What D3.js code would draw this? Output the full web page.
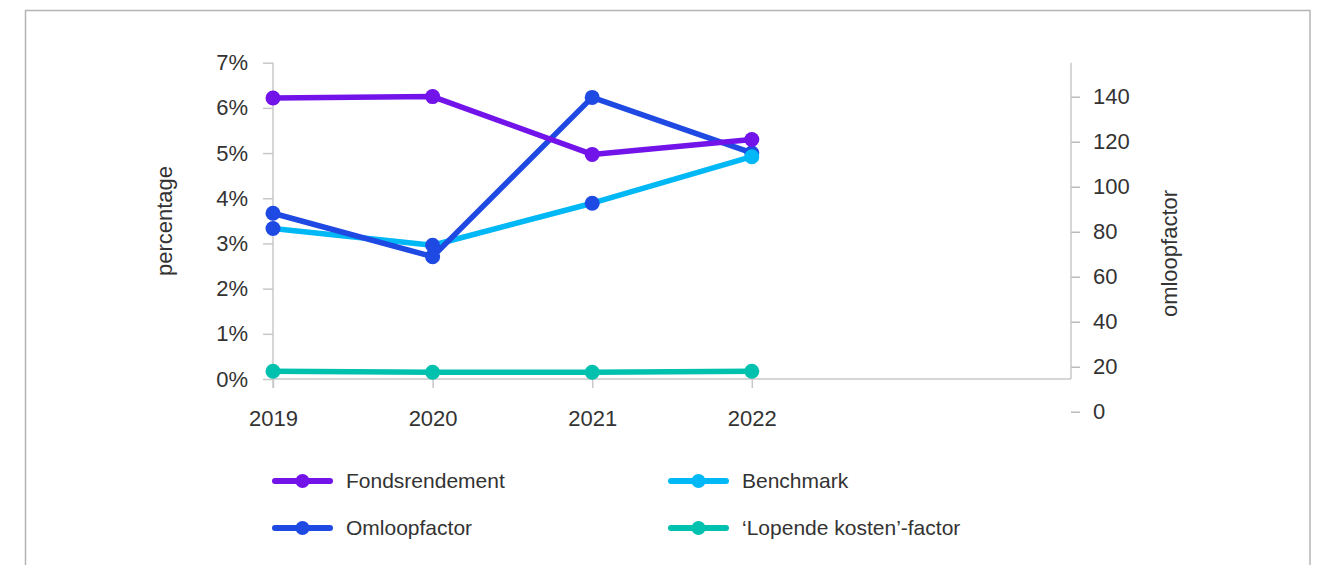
<!DOCTYPE html>
<html>
<head>
<meta charset="utf-8">
<script src="https://cdn.jsdelivr.net/npm/d3@7"></script>
<style>
  html, body { margin: 0; padding: 0; background: #fff; }
  svg { display: block; }
  text { font-family: "Liberation Sans", Arial, sans-serif; fill: #333; }
</style>
</head>
<body>
<svg id="chart" width="1326" height="565"></svg>
<script>
// Years on the horizontal axis
const years = [2019, 2020, 2021, 2022];

// Percentages (left axis)
const fondsrendement = [6.22, 6.25, 4.97, 5.30];
const benchmark = [3.33, 2.96, 3.89, 4.92];
const lopendeKosten = [0.17, 0.15, 0.15, 0.17];

// Turnover factor (right axis)
const omloopfactor = [88.2, 68.9, 139.7, 115.0];

// Tick labels
const leftTicks = [0, 1, 2, 3, 4, 5, 6, 7];
const rightTicks = [0, 20, 40, 60, 80, 100, 120, 140];

// Legend entries
const legendLabels = ["Fondsrendement", "Benchmark", "Omloopfactor", "\u2018Lopende kosten\u2019-factor"];

const colors = {
  fonds: "#7213EA",
  bench: "#00B8F5",
  omloop: "#1E49E2",
  kosten: "#00C0AE"
};
// Benchmark markers: first three points carry the cobalt fill
const benchMarkerFill = [colors.omloop, colors.omloop, colors.omloop, colors.bench];

const svg = d3.select("#chart");

// Outer frame
svg.append("rect")
  .attr("x", 25.5).attr("y", 10.5)
  .attr("width", 1284.5).attr("height", 600)
  .attr("fill", "none").attr("stroke", "#b4b4b4").attr("stroke-width", 1.5);

const x = d3.scaleLinear().domain([2019, 2024]).range([273, 1071]);
const yL = d3.scaleLinear().domain([0, 7]).range([379, 62.7]);
const yR = d3.scaleLinear().domain([0, 140]).range([411.7, 96.7]);

const axisColor = "#c8c8c8";
const fontSize = 22;

// Left axis
const gL = svg.append("g").attr("transform", `translate(${x(2019)},0)`)
  .call(d3.axisLeft(yL).tickValues(leftTicks).tickSize(10).tickPadding(15)
    .tickFormat(d => d + "%"));
gL.select(".domain").remove();
gL.selectAll(".tick line").attr("stroke", axisColor).attr("stroke-width", 1.5);
gL.selectAll(".tick text").style("font-size", fontSize + "px").attr("fill", "#333");
svg.append("line")
  .attr("x1", x(2019)).attr("x2", x(2019))
  .attr("y1", yL(7)).attr("y2", yL(0) + 9)
  .attr("stroke", axisColor).attr("stroke-width", 1.5);

// Right axis
const gR = svg.append("g").attr("transform", `translate(${x(2024)},0)`)
  .call(d3.axisRight(yR).tickValues(rightTicks).tickSize(9).tickPadding(13));
gR.select(".domain").remove();
gR.selectAll(".tick line").attr("stroke", "#aaa").attr("stroke-width", 1.2);
gR.selectAll(".tick text").style("font-size", fontSize + "px").attr("fill", "#333");
svg.append("line")
  .attr("x1", x(2024)).attr("x2", x(2024))
  .attr("y1", yL(7)).attr("y2", yL(0))
  .attr("stroke", axisColor).attr("stroke-width", 1.5);

// Bottom axis
const gX = svg.append("g").attr("transform", `translate(0,${yL(0)})`)
  .call(d3.axisBottom(x).tickValues(years).tickSize(9).tickPadding(22)
    .tickFormat(d3.format("d")));
gX.select(".domain").remove();
gX.selectAll(".tick line").attr("stroke", axisColor).attr("stroke-width", 1.5);
gX.selectAll(".tick text").style("font-size", fontSize + "px").attr("fill", "#333");
svg.append("line")
  .attr("x1", x(2019)).attr("x2", x(2024))
  .attr("y1", yL(0)).attr("y2", yL(0))
  .attr("stroke", axisColor).attr("stroke-width", 1.5);

// Axis titles
svg.append("text")
  .attr("transform", `translate(172,221) rotate(-90)`)
  .attr("text-anchor", "middle")
  .style("font-size", fontSize + "px")
  .text("percentage");
svg.append("text")
  .attr("transform", `translate(1177,253.5) rotate(-90)`)
  .attr("text-anchor", "middle")
  .style("font-size", fontSize + "px")
  .text("omloopfactor");

// Series
const lineW = 5.5, r = 7.5;
const series = [
  { vals: benchmark, y: yL, color: colors.bench },
  { vals: omloopfactor, y: yR, color: colors.omloop },
  { vals: fondsrendement, y: yL, color: colors.fonds },
  { vals: lopendeKosten, y: yL, color: colors.kosten }
];

series.forEach(s => {
  const line = d3.line().x((d, i) => x(years[i])).y(d => s.y(d));
  svg.append("path")
    .attr("d", line(s.vals))
    .attr("fill", "none")
    .attr("stroke", s.color)
    .attr("stroke-width", lineW)
    .attr("stroke-linejoin", "round");
});

function dots(vals, y, fill) {
  svg.append("g").selectAll("circle").data(vals).join("circle")
    .attr("cx", (d, i) => x(years[i]))
    .attr("cy", d => y(d))
    .attr("r", r)
    .attr("fill", (d, i) => typeof fill === "function" ? fill(i) : fill);
}
dots(omloopfactor, yR, colors.omloop);
dots(fondsrendement, yL, colors.fonds);
dots(lopendeKosten, yL, colors.kosten);
dots(benchmark, yL, i => benchMarkerFill[i]);

// Legend
const legendColors = [colors.fonds, colors.bench, colors.omloop, colors.kosten];
const legendCols = [272, 668];
const legendRows = [481, 528];
legendLabels.forEach((label, i) => {
  const lx = legendCols[i % 2], ly = legendRows[Math.floor(i / 2)];
  const g = svg.append("g").attr("transform", `translate(${lx},${ly})`);
  g.append("line").attr("x1", 3).attr("x2", 58).attr("y1", 0).attr("y2", 0)
    .attr("stroke", legendColors[i]).attr("stroke-width", 6).attr("stroke-linecap", "round");
  g.append("circle").attr("cx", 30.5).attr("cy", 0).attr("r", 7).attr("fill", legendColors[i]);
  g.append("text").attr("x", 74).attr("y", 0).attr("dy", "0.35em")
    .style("font-size", "21px").text(label);
});
</script>
</body>
</html>
